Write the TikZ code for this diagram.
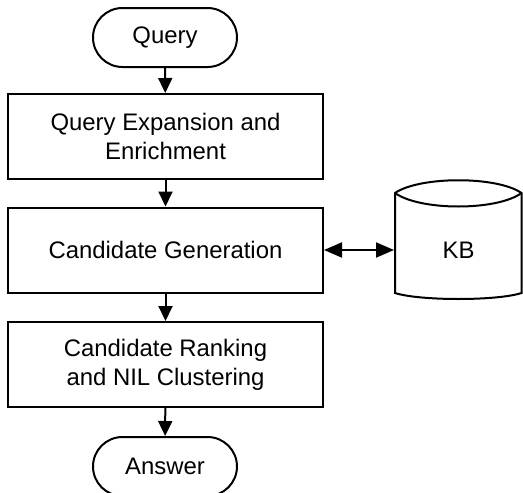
\documentclass[tikz,border=0pt]{standalone}
\usepackage{fontspec}
\setmainfont{Liberation Sans}
\usetikzlibrary{arrows.meta,positioning}
\begin{document}
\begin{tikzpicture}[x=1pt,y=-1pt,
  line width=2pt,
  every node/.style={font=\fontsize{23.9}{28.8}\selectfont},
  procbox/.style={draw, rectangle, minimum width=315pt, minimum height=85pt, inner sep=0pt, align=center},
  terminal/.style={draw, rectangle, rounded corners=29.5pt, minimum width=144pt, minimum height=59pt, inner sep=0pt},
  flow/.style={-{Triangle[length=15pt,width=14pt]}},
  biflow/.style={{Triangle[length=18pt,width=15pt]}-{Triangle[length=18pt,width=15pt]}}
]
\useasboundingbox (0,0) rectangle (523,493);

\node[terminal] (query) at (165,37.5) {Query};
\node[procbox] (expand) at (165.5,136.5) {Query Expansion and\\Enrichment};
\node[procbox] (gen) at (165.5,250) {Candidate Generation};
\node[procbox] (rank) at (165.5,364.5) {Candidate Ranking\\and NIL Clustering};
\node[terminal] (answer) at (165,466.5) {Answer};

% knowledge base drum
\node[minimum width=127pt, minimum height=100pt, inner sep=0pt] (kb) at (458.5,250) {KB};
\draw (395,193) -- (395,293) .. controls (420,301) and (497,301) .. (521.5,293) -- (521.5,193)
      .. controls (497,176) and (420,176) .. cycle;
\draw (395,193) .. controls (420,211) and (497,211) .. (521.5,193);

\draw[flow] (query) -- (expand);
\draw[flow] (expand) -- (gen);
\draw[flow] (gen) -- (rank);
\draw[flow] (rank) -- (answer);
\draw[biflow] (gen.east) -- (kb.west);
\end{tikzpicture}
\end{document}
